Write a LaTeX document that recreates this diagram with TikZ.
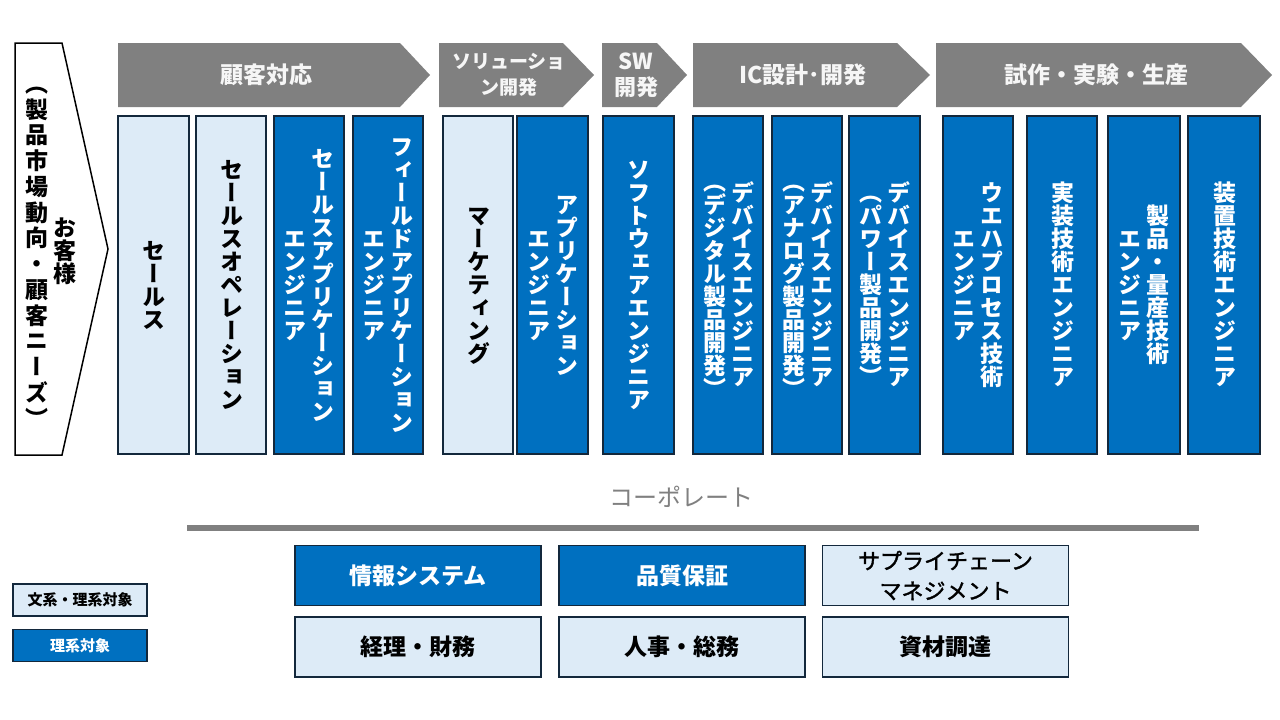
\documentclass[tikz,border=0pt]{standalone}
\usepackage{fontspec}
\setmainfont{Noto Sans CJK JP}
\newfontfamily\vjp[RawFeature=vertical]{Noto Sans CJK JP}
\newfontfamily\medjp[FakeBold=1.6]{Noto Sans CJK JP}
\definecolor{dblue}{HTML}{0070C0}
\definecolor{lblue}{HTML}{DDEBF7}
\definecolor{navy}{HTML}{13283C}
\definecolor{agray}{HTML}{808080}
\definecolor{atext}{HTML}{F6F6F6}
\newcommand\mkcol[5]{%
  \node[colbase,#4,minimum width={#3-#2}] (#1) at ({(#2+#3)/2},285) {};
  \node[vtext,#4txt] (#1t) at ([xshift=9.5pt]#1.center) {#5};
}
\newcommand\mkarrow[7]{% name, x1, bodyend, tip, label x, font size, text
  \fill[agray] (#2,43) -- (#3,43) -- (#4,75) -- (#3,107) -- (#2,107) -- cycle;
  \node[arrtext,font=\bfseries\fontsize{#6}{26}\selectfont] (#1) at (#5,75) {#7};
}
\begin{document}
\begin{tikzpicture}[x=1pt,y=-1pt,
  colbase/.style={draw=navy,line width=1.6pt,minimum height=338pt,inner sep=0pt},
  dk/.style={fill=dblue},
  lt/.style={fill=lblue},
  dktxt/.style={text=white},
  lttxt/.style={text=black},
  vtext/.style={rotate=-90,align=center,inner sep=0pt,font=\vjp\bfseries\fontsize{23}{28}\selectfont},
  arrtext/.style={text=atext,align=center,inner sep=0pt},
  corp/.style={draw=navy,line width=1.6pt,minimum width=246pt,minimum height=60pt,inner sep=0pt,align=center},
  leg/.style={draw=navy,line width=1.6pt,minimum width=134pt,minimum height=32pt,inner sep=0pt,font=\bfseries\fontsize{15}{18}\selectfont}
]
\useasboundingbox (0,0) rectangle (1280,720);
\fill[white] (0,0) rectangle (1280,720);

% customer chevron
\draw[black,line width=1.5pt,fill=white,line join=miter] (15,43) -- (62,43) -- (108,249) -- (62,455) -- (15,455) -- cycle;
\node[vtext,text=black] (cust) at (60,251) {お客様\\{\addfontfeature{LetterSpace=12}（製品市場動向・顧客ニーズ）}};

% process arrows
\mkarrow{a1}{118}{400}{430}{266}{23}{顧客対応}
\mkarrow{a2}{439}{563}{594}{509}{19}{ソリューショ\\ン開発}
\mkarrow{a3}{602}{657}{687}{636}{22}{SW\\開発}
\mkarrow{a4}{693}{897}{930}{803}{23}{IC設計･開発}
\mkarrow{a5}{936}{1241}{1272}{1096}{23}{試作・実験・生産}

% columns
\mkcol{c1}{118}{189}{lt}{セールス}
\mkcol{c2}{196}{266}{lt}{セールスオペレーション}
\mkcol{c3}{274}{344}{dk}{セールスアプリケーション\\エンジニア}
\mkcol{c4}{353}{423}{dk}{フィールドアプリケーション\\エンジニア}
\mkcol{c5}{443}{513}{lt}{マーケティング}
\mkcol{c6}{517}{588}{dk}{アプリケーション\\エンジニア}
\mkcol{c7}{603}{674}{dk}{ソフトウェアエンジニア}
\mkcol{c8}{693}{763}{dk}{デバイスエンジニア\\（デジタル製品開発）}
\mkcol{c9}{772}{842}{dk}{デバイスエンジニア\\（アナログ製品開発）}
\mkcol{c10}{849}{920}{dk}{デバイスエンジニア\\（パワー製品開発）}
\mkcol{c11}{943}{1013}{dk}{ウエハプロセス技術\\エンジニア}
\mkcol{c12}{1027}{1097}{dk}{実装技術エンジニア}
\mkcol{c13}{1108}{1180}{dk}{製品・量産技術\\エンジニア}
\mkcol{c14}{1188}{1260}{dk}{装置技術エンジニア}

% corporate
\node[text=agray,inner sep=0pt,font=\fontsize{24}{28}\selectfont] (corpt) at (681,497) {コーポレート};
\draw[agray,line width=6pt] (187,528) -- (1199,528);

\node[corp,fill=dblue,text=white,font=\bfseries\fontsize{23}{30}\selectfont] (b1) at (418,575.5) {情報システム};
\node[corp,fill=dblue,text=white,font=\bfseries\fontsize{23}{30}\selectfont] (b2) at (682,575.5) {品質保証};
\node[corp,fill=lblue,text=black,font=\medjp\fontsize{22}{30}\selectfont] (b3) at (945.5,575.5) {サプライチェーン\\マネジメント};
\node[corp,fill=lblue,text=black,font=\bfseries\fontsize{23}{30}\selectfont] (b4) at (418,647) {経理・財務};
\node[corp,fill=lblue,text=black,font=\bfseries\fontsize{23}{30}\selectfont] (b5) at (682,647) {人事・総務};
\node[corp,fill=lblue,text=black,font=\bfseries\fontsize{23}{30}\selectfont] (b6) at (945.5,647) {資材調達};

% legend
\node[leg,fill=lblue,text=black] (l1) at (80,600) {文系・理系対象};
\node[leg,fill=dblue,text=white] (l2) at (80,645.5) {理系対象};
\end{tikzpicture}
\end{document}
